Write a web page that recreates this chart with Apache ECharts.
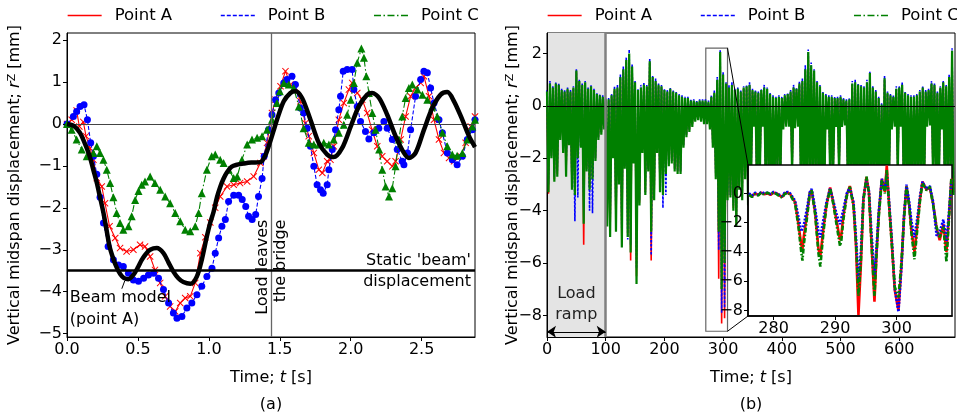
<!DOCTYPE html>
<html><head><meta charset="utf-8">
<script src="https://cdn.jsdelivr.net/npm/echarts@6/dist/echarts.min.js"></script>
<style>html,body{margin:0;padding:0;background:#fff}#c{width:957px;height:417px}</style>
</head><body><div id="c"></div>
<script>
// ---------------- Panel (a) data ----------------
const aPointA = [[0,0],[0.033,0.1],[0.068,0.32],[0.087,-0.06],[0.115,0.05],[0.134,-0.29],[0.162,-0.57],[0.186,-0.85],[0.21,-1.29],[0.245,-1.49],[0.268,-1.89],[0.30,-2.44],[0.34,-2.72],[0.374,-2.96],[0.42,-3.04],[0.468,-3.0],[0.515,-2.88],[0.55,-2.92],[0.586,-3.16],[0.62,-3.48],[0.657,-3.79],[0.692,-4.11],[0.727,-4.35],[0.763,-4.47],[0.798,-4.27],[0.833,-4.15],[0.869,-4.11],[0.904,-3.79],[0.94,-3.08],[0.975,-2.7],[1.01,-2.35],[1.045,-2.0],[1.08,-1.73],[1.128,-1.49],[1.175,-1.45],[1.22,-1.41],[1.27,-1.37],[1.316,-1.25],[1.363,-0.93],[1.387,-0.77],[1.41,-0.45],[1.445,0.26],[1.47,0.58],[1.505,0.9],[1.54,1.26],[1.575,0.94],[1.61,0.86],[1.645,0.54],[1.68,0.02],[1.704,-0.29],[1.74,-0.69],[1.775,-1.09],[1.8,-1.17],[1.834,-0.89],[1.857,-0.85],[1.88,-0.53],[1.916,0.1],[1.951,0.5],[1.987,0.82],[2.01,0.98],[2.046,0.74],[2.081,0.58],[2.116,0.26],[2.15,-0.14],[2.187,-0.53],[2.222,-0.77],[2.257,-0.89],[2.293,-1.01],[2.316,-0.89],[2.352,-0.37],[2.387,0.18],[2.422,0.66],[2.457,0.86],[2.493,0.98],[2.516,1.14],[2.552,0.66],[2.587,0.1],[2.622,-0.37],[2.657,-0.69],[2.693,-0.81],[2.728,-0.89],[2.775,-0.77],[2.81,-0.45],[2.846,-0.06],[2.876,0.18]];
const aPointB = [[0,0],[0.045,0.18],[0.068,0.3],[0.092,0.42],[0.12,0.46],[0.144,0.1],[0.167,-0.45],[0.186,-0.77],[0.21,-1.2],[0.233,-1.75],[0.257,-2.36],[0.29,-2.92],[0.327,-3.24],[0.363,-3.36],[0.397,-3.4],[0.433,-3.56],[0.468,-3.72],[0.504,-3.75],[0.54,-3.68],[0.574,-3.6],[0.61,-3.56],[0.645,-3.68],[0.68,-3.95],[0.716,-4.27],[0.75,-4.51],[0.775,-4.63],[0.81,-4.59],[0.845,-4.39],[0.88,-4.27],[0.916,-4.07],[0.95,-3.87],[0.986,-3.64],[1.022,-3.44],[1.045,-3.08],[1.069,-2.72],[1.092,-2.44],[1.116,-2.28],[1.139,-1.85],[1.175,-1.7],[1.21,-1.7],[1.235,-1.8],[1.26,-1.97],[1.28,-2.2],[1.305,-2.28],[1.33,-2.16],[1.35,-1.73],[1.375,-1.3],[1.39,-0.77],[1.42,-0.14],[1.445,0.22],[1.47,0.58],[1.493,0.74],[1.528,0.98],[1.55,1.06],[1.586,1.14],[1.61,0.94],[1.645,0.38],[1.668,0.26],[1.693,-0.1],[1.716,-0.53],[1.74,-1.01],[1.763,-1.45],[1.787,-1.57],[1.806,-1.65],[1.834,-1.45],[1.846,-1.09],[1.87,-0.61],[1.893,-0.14],[1.916,0.34],[1.928,0.66],[1.947,1.26],[1.975,1.3],[2.01,1.3],[2.022,0.82],[2.046,0.42],[2.069,0.06],[2.104,-0.18],[2.128,-0.36],[2.163,-0.21],[2.198,-0.1],[2.234,0.06],[2.257,-0.1],[2.293,-0.37],[2.328,-0.61],[2.363,-0.89],[2.375,-0.97],[2.4,-0.69],[2.422,-0.14],[2.457,0.66],[2.493,1.06],[2.516,1.26],[2.54,1.22],[2.563,0.86],[2.587,0.5],[2.622,0.1],[2.646,-0.21],[2.681,-0.69],[2.716,-0.85],[2.75,-0.97],[2.787,-0.77],[2.822,-0.37],[2.857,-0.14],[2.876,0.1]];
const aPointC = [[0,0],[0.033,-0.14],[0.068,-0.37],[0.104,-0.61],[0.139,-0.77],[0.186,-0.69],[0.21,-0.53],[0.233,-0.69],[0.257,-0.85],[0.28,-1.09],[0.304,-1.41],[0.327,-1.75],[0.35,-2.12],[0.374,-2.36],[0.397,-2.52],[0.433,-2.44],[0.456,-2.2],[0.48,-1.81],[0.504,-1.6],[0.527,-1.45],[0.55,-1.37],[0.586,-1.25],[0.62,-1.41],[0.657,-1.57],[0.692,-1.73],[0.727,-1.89],[0.763,-2.12],[0.798,-2.32],[0.833,-2.52],[0.869,-2.56],[0.904,-2.44],[0.928,-2.12],[0.95,-1.65],[0.986,-1.09],[1.02,-0.77],[1.045,-0.73],[1.08,-0.85],[1.104,-0.93],[1.14,-1.09],[1.175,-1.29],[1.2,-1.25],[1.233,-0.85],[1.27,-0.49],[1.304,-0.37],[1.34,-0.33],[1.375,-0.29],[1.41,-0.14],[1.445,0.1],[1.48,0.5],[1.5,0.78],[1.528,0.98],[1.563,0.94],[1.598,0.86],[1.634,0.42],[1.668,-0.1],[1.704,-0.45],[1.74,-0.49],[1.775,-0.49],[1.81,-0.45],[1.846,-0.49],[1.88,-0.37],[1.916,-0.21],[1.951,-0.02],[1.975,0.22],[2.0,0.58],[2.022,0.98],[2.046,1.46],[2.075,1.8],[2.093,1.58],[2.11,1.14],[2.128,0.74],[2.152,0.26],[2.175,-0.14],[2.2,-0.61],[2.222,-1.09],[2.246,-1.49],[2.27,-1.73],[2.293,-1.53],[2.316,-1.01],[2.34,-0.37],[2.363,0.18],[2.387,0.62],[2.41,0.86],[2.434,0.94],[2.47,0.82],[2.505,0.7],[2.54,0.58],[2.575,0.42],[2.61,0.18],[2.646,-0.21],[2.681,-0.53],[2.716,-0.73],[2.75,-0.76],[2.787,-0.69],[2.822,-0.37],[2.857,-0.06],[2.876,0.1]];
const aBeam = [[0,0],[0.05,-0.05],[0.092,-0.21],[0.13,-0.5],[0.16,-0.77],[0.186,-1.1],[0.21,-1.4],[0.233,-1.75],[0.257,-2.12],[0.28,-2.55],[0.30,-2.92],[0.325,-3.2],[0.35,-3.42],[0.375,-3.58],[0.40,-3.67],[0.433,-3.7],[0.468,-3.6],[0.5,-3.42],[0.527,-3.24],[0.556,-3.1],[0.586,-3.0],[0.633,-2.96],[0.68,-3.08],[0.715,-3.3],[0.75,-3.52],[0.785,-3.68],[0.82,-3.77],[0.87,-3.81],[0.915,-3.64],[0.95,-3.24],[0.986,-2.68],[1.01,-2.35],[1.033,-2.1],[1.057,-1.75],[1.08,-1.5],[1.104,-1.3],[1.128,-1.15],[1.16,-1.02],[1.2,-0.97],[1.25,-0.94],[1.3,-0.92],[1.363,-0.91],[1.398,-0.75],[1.434,-0.4],[1.457,-0.15],[1.48,0.1],[1.528,0.54],[1.575,0.74],[1.61,0.78],[1.657,0.62],[1.716,0.1],[1.775,-0.45],[1.834,-0.73],[1.88,-0.79],[1.94,-0.57],[2.0,-0.06],[2.057,0.42],[2.116,0.7],[2.15,0.74],[2.2,0.62],[2.257,0.22],[2.316,-0.29],[2.375,-0.69],[2.41,-0.81],[2.457,-0.69],[2.516,-0.14],[2.575,0.38],[2.634,0.7],[2.681,0.76],[2.728,0.54],[2.787,0.1],[2.834,-0.29],[2.876,-0.55]];
const aStatic = -3.5;      // static 'beam' displacement
const aLeave = 1.44;       // time the load leaves the bridge
const aXRange = [0, 2.876], aYRange = [-5.08, 2.17];
const aXTicks = [0, 0.5, 1, 1.5, 2, 2.5];
const aYTicks = [-5, -4, -3, -2, -1, 0, 1, 2];

// ---------------- Panel (b) data (per 5 s window: max, min) ----------------
const bTimes = [0,5,10,15,20,25,30,35,40,45,50,55,60,65,70,75,80,85,90,95,100,105,110,115,120,125,130,135,140,145,150,155,160,165,170,175,180,185,190,195,200,205,210,215,220,225,230,235,240,245,250,255,260,265,270,275,280,285,290,295,300,305,310,315,320,325,330,335,340,345,350,355,360,365,370,375,380,385,390,395,400,405,410,415,420,425,430,435,440,445,450,455,460,465,470,475,480,485,490,495,500,505,510,515,520,525,530,535,540,545,550,555,560,565,570,575,580,585,590,595,600,605,610,615,620,625,630,635,640,645,650,655,660,665,670,675,680,685,690];
const bHiC = [0.55,0.85,0.7,0.85,0.8,0.6,0.55,0.65,0.55,0.7, 1.35,0.95,0.8,0.9,0.65,0.75,0.6,0.45,0.4,0.35, 0.25,0.25,0.4,0.65,0.7,1.1,1.4,1.75,2.0,1.5, 0.9,0.6,0.7,0.8,0.75,1.7,1.1,0.95,0.8,0.75, 0.6,0.55,0.65,0.55,0.5,0.4,0.35,0.3,0.3,0.2, 0.2,0.15,0.2,0.2,0.2,0.15,0.35,0.5,1.0,2.05, 1.2,0.85,0.7,0.8,0.6,0.65,0.55,0.7,0.75,0.8, 0.6,0.55,0.5,0.6,0.7,0.65,0.45,0.35,0.3,0.35, 0.3,0.4,0.45,0.55,0.7,0.65,0.85,0.95,1.4,2.05, 1.55,1.35,0.9,0.75,0.5,0.4,0.35,0.35,0.3,0.3, 0.35,0.25,0.2,0.25,0.85,0.9,0.8,0.75,0.7,0.9, 1.25,0.7,0.55,0.3,0.05,1.05,0.5,0.4,0.35,0.65, 0.7,0.8,0.5,0.4,0.35,0.35,0.4,0.55,0.7,0.55, 0.6,0.85,0.8,0.5,0.7,0.9,0.75,1.1,2.1];
const bLoC = [-3.3,-2.0,-2.9,-2.7,-1.3,-1.8,-2.7,-1.5,-3.2,-3.4, -2.0,-1.6,-4.5,-2.5,-3.2,-2.8,-2.1,-1.3,-1.1,-0.9, -4.6,-5.0,-2.0,-4.8,-3.0,-5.4,-2.4,-5.0,-5.6,-2.2, -6.8,-3.8,-1.8,-3.4,-2.5,-4.8,-3.6,-1.8,-3.3,-3.4, -2.6,-2.3,-2.2,-2.5,-2.6,-2.6,-1.6,-1.2,-1.0,-0.8, -0.6,-0.55,-0.6,-0.7,-0.7,-0.9,-1.6,-2.8,-4.8,-7.0, -6.0,-3.6,-3.5,-4.0,-4.6,-3.2,-3.6,-2.8,-3.8,-3.0, -0.8,-3.2,-2.8,-0.8,-3.0,-2.6,-3.4,-3.0,-2.5,-2.8, -0.9,-0.8,-0.8,-2.6,-0.85,-0.8,-3.0,-3.2,-3.5,-3.0, -3.3,-2.8,-3.0,-3.5,-3.2,-0.9,-3.0,-2.5,-0.8,-2.6, -0.8,-0.75,-3.0,-2.8,-3.5,-3.0,-3.3,-3.0,-3.4,-3.0, -3.2,-2.9,-3.1,-3.3,-4.0,-3.5,-3.2,-0.9,-0.8,-2.6, -0.8,-2.8,-3.0,-3.1,-3.0,-2.8,-3.0,-2.9,-3.1,-0.8, -0.75,-2.6,-3.0,-3.2,-0.9,-3.0,-2.8,-3.0,-3.4];
const bHiA = [0.5,0.8,0.65,0.8,0.75,0.55,0.5,0.6,0.5,0.65, 1.3,0.9,0.75,0.85,0.6,0.7,0.55,0.4,0.35,0.3, 0.2,0.2,0.35,0.6,0.65,1.05,1.35,1.7,1.95,1.45, 0.85,0.55,0.65,0.75,0.7,1.65,1.05,0.9,0.75,0.7, 0.55,0.5,0.6,0.5,0.45,0.35,0.3,0.25,0.25,0.15, 0.15,0.1,0.15,0.15,0.15,0.1,0.3,0.45,0.95,2.0, 1.15,0.8,0.65,0.75,0.55,0.6,0.5,0.65,0.7,0.75, 0.55,0.5,0.45,0.55,0.65,0.6,0.4,0.3,0.25,0.3, 0.25,0.35,0.4,0.5,0.65,0.6,0.8,0.9,1.35,2.0, 1.5,1.3,0.85,0.7,0.45,0.35,0.3,0.3,0.25,0.25, 0.3,0.2,0.15,0.2,0.8,0.85,0.75,0.7,0.65,0.85, 1.2,0.65,0.5,0.25,0.0,1.0,0.45,0.35,0.3,0.6, 0.65,0.75,0.45,0.35,0.3,0.3,0.35,0.5,0.65,0.5, 0.55,0.8,0.75,0.45,0.65,0.85,0.7,1.05,2.0];
const bLoA = [-3.35,-1.9,-2.8,-2.6,-1.2,-1.7,-2.6,-1.4,-3.1,-3.3, -1.9,-1.5,-5.3,-2.4,-3.1,-2.7,-2.0,-1.2,-1.0,-0.8, -4.5,-4.9,-1.9,-4.7,-2.9,-5.3,-2.3,-4.9,-5.9,-2.1, -6.5,-3.7,-1.7,-3.3,-2.4,-5.9,-3.5,-1.7,-3.2,-3.3, -2.5,-2.2,-2.1,-2.4,-2.5,-2.5,-1.5,-1.1,-0.9,-0.7, -0.5,-0.5,-0.5,-0.6,-0.6,-0.8,-1.5,-2.7,-6.6,-8.3, -8.1,-3.5,-3.4,-3.9,-4.5,-3.1,-3.5,-2.7,-3.7,-2.9, -0.7,-3.1,-2.7,-0.7,-2.9,-2.5,-3.3,-2.9,-2.4,-2.7, -0.8,-0.7,-0.7,-2.5,-0.75,-0.7,-2.9,-3.1,-3.4,-2.9, -3.2,-2.7,-2.9,-3.4,-3.1,-0.8,-2.9,-2.4,-0.7,-2.5, -0.7,-0.65,-2.9,-2.7,-3.4,-2.9,-3.2,-2.9,-3.3,-2.9, -3.1,-2.8,-3.0,-3.2,-3.9,-3.4,-3.1,-0.8,-0.7,-2.5, -0.7,-2.7,-2.9,-3.0,-2.9,-2.7,-2.9,-2.8,-3.0,-0.7, -0.65,-2.5,-2.9,-3.1,-0.8,-2.9,-2.7,-2.9,-3.3];
const bHiB = [0.6,0.95,0.75,0.9,0.85,0.65,0.6,0.7,0.6,0.75, 1.4,1.0,0.85,0.95,0.7,0.8,0.65,0.5,0.45,0.4, 0.3,0.3,0.45,0.75,0.8,1.2,1.5,1.85,2.15,1.6, 0.95,0.65,0.8,0.9,0.8,1.8,1.15,1.05,0.85,0.8, 0.65,0.6,0.7,0.6,0.55,0.45,0.4,0.35,0.35,0.25, 0.25,0.2,0.25,0.25,0.25,0.2,0.4,0.6,1.1,2.15, 1.3,0.9,0.8,0.9,0.65,0.7,0.6,0.75,0.8,0.9, 0.65,0.6,0.55,0.65,0.8,0.7,0.5,0.4,0.35,0.4, 0.35,0.45,0.5,0.6,0.8,0.7,0.95,1.05,1.55,2.15, 1.65,1.4,0.95,0.8,0.55,0.45,0.4,0.4,0.35,0.35, 0.4,0.3,0.25,0.3,0.95,1.0,0.85,0.8,0.75,1.0, 1.3,0.75,0.6,0.35,0.1,1.15,0.55,0.45,0.4,0.75, 0.75,0.9,0.55,0.45,0.4,0.4,0.45,0.6,0.75,0.6, 0.65,0.95,0.85,0.55,0.75,0.95,0.8,1.2,2.2];
const bLoB = [-3.0,-1.9,-2.7,-2.5,-1.2,-1.7,-2.5,-1.4,-3.0,-4.4, -3.5,-1.5,-3.6,-2.4,-4.0,-4.1,-2.0,-1.2,-1.0,-0.8, -4.2,-4.7,-1.9,-4.5,-2.9,-5.1,-2.3,-5.1,-5.3,-2.1, -6.2,-3.6,-1.7,-3.3,-2.4,-5.7,-3.4,-1.7,-3.2,-3.9, -3.4,-2.2,-2.1,-2.4,-2.5,-2.5,-1.5,-1.1,-0.9,-0.7, -0.5,-0.5,-0.5,-0.6,-0.6,-0.8,-1.5,-2.7,-5.5,-7.9, -7.7,-3.4,-3.4,-3.8,-4.4,-3.0,-3.4,-2.7,-3.6,-2.9, -0.7,-3.0,-2.7,-0.7,-2.9,-2.5,-3.3,-2.9,-2.4,-2.7, -0.8,-0.7,-0.7,-2.5,-0.75,-0.7,-2.9,-3.1,-3.4,-2.9, -3.2,-2.7,-2.9,-3.4,-3.1,-0.8,-2.9,-2.4,-0.7,-2.5, -0.7,-0.65,-2.9,-2.7,-3.4,-2.9,-3.2,-2.9,-3.3,-2.9, -3.1,-2.8,-3.0,-3.2,-4.2,-3.4,-3.1,-0.8,-0.7,-2.5, -0.7,-2.7,-2.9,-3.0,-2.9,-2.7,-2.9,-2.8,-3.0,-0.7, -0.65,-2.5,-2.9,-3.1,-0.8,-2.9,-2.7,-2.9,-3.3];
const bWindow = 5;
const bRamp = [0, 100];
const bArrowY = -8.62;
const bXRange = [0, 695], bYRange = [-8.82, 2.78];
const bXTicks = [0, 100, 200, 300, 400, 500, 600];
const bYTicks = [-8, -6, -4, -2, 0, 2];
const zoomRectX = [270.5, 307.5], zoomRectY = [-8.6, 2.2];

// ---------------- Inset data ----------------
const iTimes = [276.0,276.5,277.0,277.5,278.0,278.5,279.0,279.5,280.0,280.5,281.0,281.4,281.8,282.3,282.7,283.0,283.5,284.05,284.5,284.7,284.9,285.4,285.9,286.2,286.75,287.3,287.6,288.1,288.6,289.2,289.7,290.3,290.8,291.0,291.35,291.9,292.4,293.0,293.4,293.8,294.2,294.6,295.1,295.5,295.9,296.4,296.75,297.1,297.6,298.1,298.4,298.75,299.2,299.7,300.3,300.8,301.2,301.6,302.05,302.4,302.9,303.4,303.8,304.2,304.85,305.4,305.9,306.5,307.0,307.6,308.1,308.6,308.9];
const iA = [-0.05,-0.2,0.0,-0.1,0.05,-0.05,0.0,-0.1,0.05,0.0, -0.15,-0.25,0.0,0.05,-0.05,-0.15,-0.6,-2.1,-3.5,-3.8, -3.0,-1.5,0.05,0.2,-1.3,-3.8,-4.3,-2.4,-0.8,0.4, -0.6,-2.0,-3.2,-2.9,-1.5,-0.1,0.5,-0.8,-3.6,-8.3, -4.8,-0.4,1.1,0.1,-3.2,-7.4,-4.0,-1.4,1.0,0.1, 1.9,-0.6,-3.3,-6.6,-8.0,-4.8,-1.6,0.5,-0.8,-2.5, -4.0,-2.0,-0.4,0.8,0.25,0.4,-0.6,-2.4,-3.2,-2.1, -4.0,-1.0,1.0];
const iB = [0.0,-0.15,0.05,-0.1,0.1,0.0,0.05,-0.05,0.1,0.0, -0.1,-0.2,0.05,0.1,0.0,-0.1,-0.5,-1.6,-2.6,-2.7, -2.2,-1.1,0.1,0.3,-1.0,-2.6,-3.0,-1.8,-0.6,0.35, -0.5,-1.5,-2.1,-2.0,-1.1,0.0,0.4,-0.6,-3.0,-5.9, -4.0,-0.3,0.9,0.2,-2.6,-5.6,-3.6,-1.2,1.0,0.2, 1.3,-0.4,-3.0,-6.5,-8.1,-5.0,-1.5,0.6,-0.6,-1.9, -3.0,-1.6,-0.2,0.8,0.3,0.5,-0.5,-2.9,-2.6,-1.8, -3.3,-0.8,0.9];
const iC = [-0.1,-0.25,-0.05,-0.15,0.05,-0.1,0.05,-0.05,0.05,-0.05, -0.2,-0.3,-0.05,0.05,-0.1,-0.2,-0.7,-2.3,-4.0,-4.6, -3.6,-1.8,0.0,0.2,-1.4,-4.1,-5.0,-2.7,-0.9,0.35, -0.7,-2.3,-3.6,-3.3,-1.8,-0.2,0.45,-0.9,-3.4,-7.0, -4.6,-0.5,1.15,0.0,-3.4,-7.0,-4.1,-1.6,0.9,0.0, 1.6,-0.7,-3.4,-6.4,-7.1,-4.6,-1.8,0.45,-0.9,-2.7, -4.5,-2.3,-0.5,0.7,0.2,0.45,-0.7,-2.3,-3.0,-2.3, -4.7,-1.1,1.1];
const iXRange = [275.85, 309.0], iYRange = [-8.38, 1.94];
const iXTicks = [280, 290, 300];
const iYTicks = [-8, -6, -4, -2, 0];

const seriesNames = ['Point A', 'Point B', 'Point C'];
const colors = ['#ff0000', '#0000ff', '#008000'];

// ---------------- Helpers ----------------
const FONT = 'DejaVu Sans';
const fmtMinus = v => (v < 0 ? '\u2212' + Math.abs(v) : String(v));
function envelope(hi, lo) {
  const out = [];
  for (let i = 0; i < bTimes.length; i++) {
    out.push([bTimes[i], hi[i]]);
    out.push([bTimes[i] + bWindow / 2, lo[i]]);
  }
  return out;
}
const pairs = (ts, vs) => ts.map((t, i) => [t, vs[i]]);

function axis(gridIndex, range, ticks, fmt, extra) {
  return Object.assign({
    type: 'value', gridIndex, min: range[0], max: range[1],
    axisLine: {show: true, onZero: false, lineStyle: {color: '#000', width: 1}},
    axisTick: {show: true, inside: false, length: 4, customValues: ticks, lineStyle: {color: '#000', width: 1}},
    axisLabel: {show: true, customValues: ticks, formatter: fmt, color: '#000', fontFamily: FONT, fontSize: 16, margin: 5},
    splitLine: {show: false}, z: 4, nameMoveOverlap: false
  }, extra || {});
}

const dashB = [4, 2];
const dashC = [7, 2.5, 1.5, 2.5];
const xSym = 'path://M1,0 L5,4 L9,0 L10,1 L6,5 L10,9 L9,10 L5,6 L1,10 L0,9 L4,5 L0,1 Z';
const yName = 'Vertical midspan displacement; {i|r}{sup|Z} [mm]';
const nameStyle = {
  color: '#000', fontFamily: FONT, fontSize: 16,
  rich: {
    i: {fontStyle: 'italic', fontFamily: FONT, fontSize: 16, color: '#000'},
    sup: {fontFamily: FONT, fontSize: 11, color: '#000', verticalAlign: 'top', lineHeight: 10}
  }
};

const GA = {left: 67, top: 33, width: 408, height: 304};
const GB = {left: 547, top: 33, width: 408, height: 304};
const GI = {left: 748, top: 165, width: 204, height: 151};

const chart = echarts.init(document.getElementById('c'), null, {renderer: 'canvas'});

const legendCommon = {
  top: 2, width: 600, itemWidth: 34, itemHeight: 14, itemGap: 48,
  textStyle: {fontFamily: FONT, fontSize: 16.5, color: '#000', padding: [0, 0, 0, 8]},
  itemStyle: {opacity: 0},
  selectedMode: false,
  data: [
    {name: 'Point A', lineStyle: {color: colors[0], width: 1.3, type: 'solid'}},
    {name: 'Point B', lineStyle: {color: colors[1], width: 1.3, type: dashB}},
    {name: 'Point C', lineStyle: {color: colors[2], width: 1.3, type: dashC}}
  ]
};

const series = [];
// Panel (b) main envelopes (first, so the legend reads their plain line style)
const bHi = [bHiA, bHiB, bHiC], bLo = [bLoA, bLoB, bLoC];
const bTypes = ['solid', [2.5, 1.5], 'solid'];
const bWidths = [1.6, 1.6, 2.2];
for (let k = 0; k < 3; k++) {
  const s = {
    name: seriesNames[k], type: 'line', xAxisIndex: 1, yAxisIndex: 1,
    data: envelope(bHi[k], bLo[k]), symbol: 'none', showSymbol: false,
    lineStyle: {color: colors[k], width: bWidths[k], type: bTypes[k], join: 'bevel'},
    itemStyle: {color: colors[k]}, z: 2 + k, silent: true, animation: false
  };
  if (k === 0) {
    s.markArea = {
      silent: true, z: 1,
      data: [
        [{coord: [bRamp[0], bYRange[1]], itemStyle: {color: '#e4e4e4'}}, {coord: [bRamp[1], bYRange[0]]}],
        [{coord: [zoomRectX[0], zoomRectY[1]], itemStyle: {color: 'rgba(0,0,0,0)', borderColor: '#666', borderWidth: 1.2}}, {coord: [zoomRectX[1], zoomRectY[0]]}]
      ]
    };
  }
  if (k === 2) {
    s.markLine = {
      silent: true, symbol: 'none', animation: false,
      label: {show: false},
      data: [
        {yAxis: 0, lineStyle: {color: '#000', width: 1.2, type: 'solid'}},
        {xAxis: bRamp[1], lineStyle: {color: '#808080', width: 2.5, type: 'solid'}},
        [{coord: [bRamp[0], bArrowY], symbol: 'arrow', symbolSize: 9}, {coord: [bRamp[1], bArrowY], symbol: 'arrow', symbolSize: 9,
          lineStyle: {color: '#000', width: 1.2, type: 'solid'},
          label: {show: true, position: 'insideMiddleTop', formatter: 'Load\nramp', color: '#222', fontFamily: FONT, fontSize: 16, lineHeight: 21, distance: 6}}]
      ]
    };
  }
  series.push(s);
}
// Inset series
const iVals = [iA, iB, iC];
const iTypes = ['solid', [2, 1.5], [5, 2, 1.5, 2]];
for (let k = 0; k < 3; k++) {
  const s = {
    name: seriesNames[k], type: 'line', xAxisIndex: 2, yAxisIndex: 2, zlevel: 1,
    data: pairs(iTimes, iVals[k]), symbol: 'none', showSymbol: false,
    lineStyle: {color: colors[k], width: 2.6, type: iTypes[k]},
    itemStyle: {color: colors[k]}, z: 3 + k, silent: true, animation: false
  };
  if (k === 0) {
    s.markLine = {silent: true, symbol: 'none', label: {show: false}, animation: false,
      data: [{yAxis: 0, lineStyle: {color: '#808080', width: 2, type: 'solid'}}]};
  }
  series.push(s);
}
// Panel (a)
const aData = [aPointA, aPointB, aPointC];
const aSyms = [xSym, 'circle', 'triangle'];
const aSizes = [7, 7, 8];
const aTypes = ['solid', dashB, dashC];
for (let k = 0; k < 3; k++) {
  const s = {
    name: seriesNames[k], type: 'line', xAxisIndex: 0, yAxisIndex: 0,
    data: aData[k], symbol: aSyms[k], symbolSize: aSizes[k], showSymbol: true,
    lineStyle: {color: colors[k], width: 1.1, type: aTypes[k]},
    itemStyle: {color: colors[k], borderWidth: 0}, z: 2 + k, silent: true, animation: false
  };
  if (k === 0) {
    s.markLine = {silent: true, symbol: 'none', animation: false, label: {show: false},
      data: [
        {yAxis: 0, lineStyle: {color: '#444', width: 1.1, type: 'solid'}},
        {xAxis: aLeave, lineStyle: {color: '#666', width: 1.3, type: 'solid'}},
        {yAxis: aStatic, lineStyle: {color: '#000', width: 2.6, type: 'solid'}}
      ]};
  }
  series.push(s);
}
series.push({
  name: 'Beam model', type: 'line', xAxisIndex: 0, yAxisIndex: 0,
  data: aBeam, symbol: 'none', showSymbol: false, smooth: 0.3,
  lineStyle: {color: '#000', width: 4.5}, itemStyle: {color: '#000'}, z: 6, silent: true, animation: false
});

const option = {
  animation: false,
  backgroundColor: '#fff',
  textStyle: {fontFamily: FONT},
  legend: [
    Object.assign({}, legendCommon, {left: 62}),
    Object.assign({}, legendCommon, {left: 542})
  ],
  grid: [
    Object.assign({show: true, borderColor: '#000', borderWidth: 1, backgroundColor: 'transparent'}, GA),
    Object.assign({show: true, borderColor: '#000', borderWidth: 1, backgroundColor: 'transparent'}, GB),
    Object.assign({show: true, borderColor: '#000', borderWidth: 1.5, backgroundColor: '#fff', zlevel: 1}, GI)
  ],
  xAxis: [
    axis(0, aXRange, aXTicks, v => v.toFixed(1), {name: 'Time; {i|t} [s]', nameLocation: 'middle', nameGap: 33, nameTextStyle: nameStyle}),
    axis(1, bXRange, bXTicks, v => String(v), {name: 'Time; {i|t} [s]', nameLocation: 'middle', nameGap: 33, nameTextStyle: nameStyle}),
    axis(2, iXRange, iXTicks, v => String(v), {zlevel: 1, axisLine: {show: true, onZero: false, lineStyle: {color: '#000', width: 1.5}}})
  ],
  yAxis: [
    axis(0, aYRange, aYTicks, fmtMinus, {name: yName, nameLocation: 'middle', nameRotate: 90, nameGap: 44, nameTextStyle: nameStyle}),
    axis(1, bYRange, bYTicks, fmtMinus, {name: yName, nameLocation: 'middle', nameRotate: 90, nameGap: 26, nameTextStyle: nameStyle}),
    axis(2, iYRange, iYTicks, fmtMinus, {zlevel: 1, axisLine: {show: true, onZero: false, lineStyle: {color: '#000', width: 1.5}}})
  ],
  series
};
chart.setOption(option);

// ---------------- Annotations anchored to data coordinates ----------------
const pA = p => chart.convertToPixel({xAxisIndex: 0, yAxisIndex: 0}, p);
const pB = p => chart.convertToPixel({xAxisIndex: 1, yAxisIndex: 1}, p);
const pI = p => chart.convertToPixel({xAxisIndex: 2, yAxisIndex: 2}, p);
const txt = (x, y, text, align, vAlign, rot, extra) => Object.assign({
  type: 'text', x, y, rotation: rot || 0, z: 50, silent: true,
  style: {text, fill: '#000', font: '16px "DejaVu Sans"', align, verticalAlign: vAlign}
}, extra || {});

const leaveTop = pA([aLeave, -2.28]);
const staticR = pA([aXRange[1], aStatic]);
const beamMin = pA([0.40, -3.67]);
const beamTxt = pA([0.02, -4.0]);
const rectTR = pB([zoomRectX[1], zoomRectY[1]]);
const rectBR = pB([zoomRectX[1], zoomRectY[0]]);
const insTL = pI([iXRange[0], iYRange[1]]);
const insBL = pI([iXRange[0], iYRange[0]]);

const graphics = [
  txt(leaveTop[0] - 8, leaveTop[1], 'Load leaves', 'right', 'middle', Math.PI / 2),
  txt(leaveTop[0] + 10, leaveTop[1], 'the bridge', 'right', 'middle', Math.PI / 2),
  txt(staticR[0] - 4, staticR[1] - 10, "Static 'beam'", 'right', 'middle'),
  txt(staticR[0] - 4, staticR[1] + 11, 'displacement', 'right', 'middle'),
  txt(beamTxt[0], beamTxt[1] + 6, 'Beam model', 'left', 'middle'),
  txt(beamTxt[0], beamTxt[1] + 28, '(point A)', 'left', 'middle'),
  {type: 'line', z: 50, silent: true, shape: {x1: beamTxt[0] + 52, y1: beamTxt[1] - 3, x2: beamMin[0] + 1, y2: beamMin[1] + 3}, style: {stroke: '#000', lineWidth: 1}},
  {type: 'line', z: 50, silent: true, shape: {x1: rectTR[0], y1: rectTR[1], x2: insTL[0], y2: insTL[1]}, style: {stroke: '#000', lineWidth: 1}},
  {type: 'line', z: 50, silent: true, shape: {x1: rectBR[0], y1: rectBR[1], x2: insBL[0], y2: insBL[1]}, style: {stroke: '#000', lineWidth: 1}},
  txt(GA.left + GA.width / 2, 405, '(a)', 'center', 'middle'),
  txt(GB.left + GB.width / 2, 405, '(b)', 'center', 'middle')
];
chart.setOption({graphic: graphics});
</script></body></html>
